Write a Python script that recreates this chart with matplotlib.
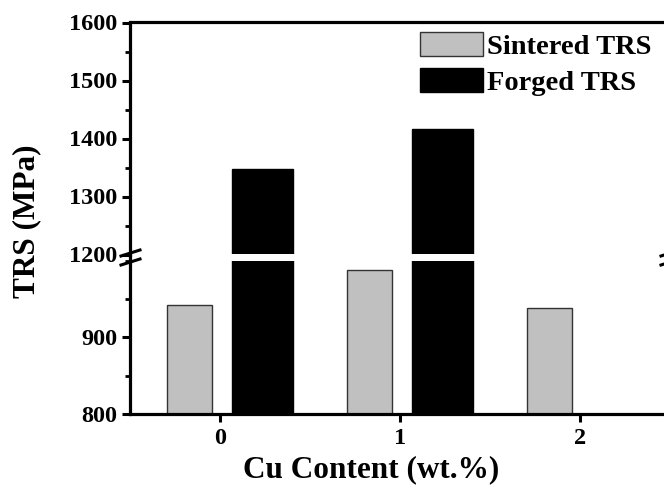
import matplotlib
matplotlib.use("Agg")
import matplotlib.pyplot as plt
import numpy as np
from matplotlib.lines import Line2D
from matplotlib.ticker import MultipleLocator

cu_content = [0, 1, 2]
sintered_trs = [942, 988, 938]
forged_trs = [1347, 1416, np.nan]

plt.rcParams['font.family'] = ['Liberation Serif', 'DejaVu Serif']
plt.rcParams['font.weight'] = 'bold'

W, H = 664, 497
fig = plt.figure(figsize=(W / 100, H / 100), dpi=100)


def px_box(x0, y_top, x1, y_bot):
    return [x0 / W, 1 - y_bot / H, (x1 - x0) / W, (y_bot - y_top) / H]


ax_lo = fig.add_axes(px_box(130, 261, 670, 413.7))
ax_hi = fig.add_axes(px_box(130, 22.5, 670, 254.5), sharex=ax_lo)

x = np.array(cu_content, dtype=float)
for ax in (ax_lo, ax_hi):
    ax.bar(x - 0.17, sintered_trs, width=0.25, color='#c0c0c0',
           edgecolor='#333333', linewidth=1.0, label='Sintered TRS')
    ax.bar(x + 0.236, forged_trs, width=0.34, color='black',
           edgecolor='black', linewidth=1.0, label='Forged TRS')
    for sp in ax.spines.values():
        sp.set_linewidth(2.3)
    ax.tick_params(axis='both', which='major', direction='out', length=6,
                   width=2.2, labelsize=17.5, pad=3)
    ax.tick_params(axis='x', which='major', pad=4)
    ax.tick_params(axis='y', which='minor', direction='out', length=3.5, width=2.0)
    ax.tick_params(axis='x', which='minor', bottom=False, top=False)

ax_lo.set_xlim(-0.5, 2.5)
ax_lo.set_ylim(800, 1000)
ax_lo.set_yticks([800, 900])
ax_lo.yaxis.set_minor_locator(MultipleLocator(50))
ax_lo.set_xticks(cu_content)
ax_lo.spines['top'].set_visible(False)

ax_hi.set_ylim(1200, 1600)
ax_hi.set_yticks([1200, 1300, 1400, 1500, 1600])
ax_hi.yaxis.set_minor_locator(MultipleLocator(50))
ax_hi.spines['bottom'].set_visible(False)
ax_hi.tick_params(axis='x', which='both', bottom=False, labelbottom=False)

for ax in (ax_lo, ax_hi):
    for lab in ax.get_xticklabels() + ax.get_yticklabels():
        lab.set_fontweight('bold')

# spine through the gap and break marks
for xs in (130, 670):
    fig.add_artist(Line2D([xs / W, xs / W], [1 - 254.5 / H, 1 - 261 / H],
                          transform=fig.transFigure, color='black', linewidth=2.3))
    for dy in (0, 9):
        fig.add_artist(Line2D([(xs - 9) / W, (xs + 10) / W],
                              [1 - (256 + dy) / H, 1 - (250 + dy) / H],
                              transform=fig.transFigure, color='black', linewidth=2.2))

fig.text(371 / W, 1 - 470 / H, 'Cu Content (wt.%)', ha='center', va='center',
         fontsize=22.5, fontweight='bold')
fig.text(27 / W, 1 - 221 / H, 'TRS (MPa)', ha='center', va='center',
         rotation=90, fontsize=22.5, fontweight='bold')

handles, labels = ax_lo.get_legend_handles_labels()
fig.legend(handles, labels, loc='upper left', bbox_to_anchor=(420 / W, 1 - 32 / H),
           frameon=False, borderpad=0, borderaxespad=0,
           handlelength=2.2, handleheight=0.9, handletextpad=0.15,
           labelspacing=0.3, prop={'weight': 'bold', 'size': 20.5})

fig.savefig('out.png', dpi=100)
